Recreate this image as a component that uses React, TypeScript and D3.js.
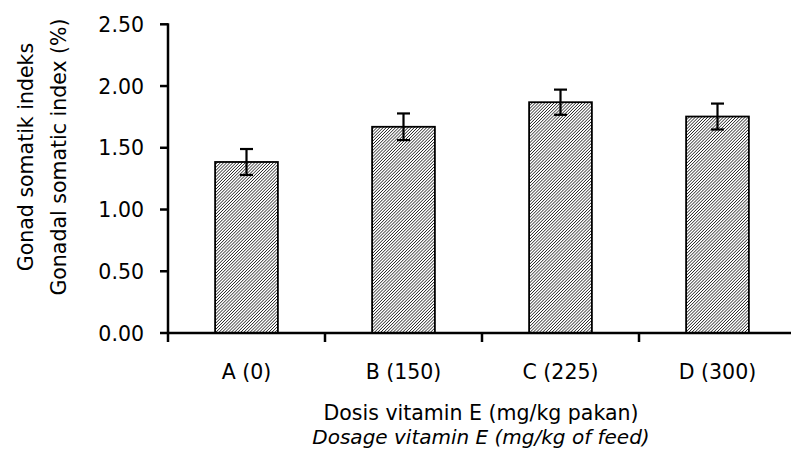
import React from "react";
import * as d3 from "d3";

const categories = ["A (0)", "B (150)", "C (225)", "D (300)"];
const values = [1.385, 1.67, 1.869, 1.753];
const errors = [0.105, 0.108, 0.102, 0.105];
const yTicks = [0, 0.5, 1.0, 1.5, 2.0, 2.5];

const W = 791;
const H = 456;
const FONT = "'DejaVu Sans', sans-serif";

export default function App() {
  const x0 = 168;
  const band = 157;
  const yScale = d3.scaleLinear().domain([0, 2.5]).range([333, 24.3]);
  const xScale = d3
    .scaleBand<string>()
    .domain(categories)
    .range([x0, x0 + band * categories.length])
    .paddingInner(0.6)
    .paddingOuter(0.3);
  const bw = xScale.bandwidth();
  const y0 = yScale(0);
  const tickXs = d3.range(categories.length + 1).map((i) => x0 + i * band);

  return (
    <svg
      width={W}
      height={H}
      style={{ position: "absolute", left: 0, top: 0, background: "#fff" }}
      fontFamily={FONT}
    >
      <defs>
        <pattern
          id="hatch"
          patternUnits="userSpaceOnUse"
          width={2.2}
          height={2.2}
          patternTransform="rotate(45)"
        >
          <rect width={2.2} height={2.2} fill="#fff" />
          <line x1={0} y1={0} x2={0} y2={2.2} stroke="#000" strokeWidth={1.25} />
        </pattern>
      </defs>
      {categories.map((c, i) => (
        <rect
          key={c}
          x={xScale(c)}
          y={yScale(values[i])}
          width={bw}
          height={y0 - yScale(values[i])}
          fill="url(#hatch)"
          stroke="#000"
          strokeWidth={1.8}
        />
      ))}
      {categories.map((c, i) => {
        const cx = (xScale(c) as number) + bw / 2;
        const t = yScale(values[i] + errors[i]);
        const b = yScale(values[i] - errors[i]);
        return (
          <g key={"e" + c} stroke="#000" strokeWidth={2.2}>
            <line x1={cx} x2={cx} y1={t} y2={b} />
            <line x1={cx - 6.5} x2={cx + 6.5} y1={t} y2={t} />
            <line x1={cx - 6.5} x2={cx + 6.5} y1={b} y2={b} />
          </g>
        );
      })}
      <line x1={x0} x2={x0} y1={yScale(2.5) - 1} y2={y0 + 1} stroke="#000" strokeWidth={2.5} />
      {yTicks.map((v) => (
        <g key={v}>
          <line x1={x0 - 8} x2={x0} y1={yScale(v)} y2={yScale(v)} stroke="#000" strokeWidth={2.5} />
          <text
            x={144}
            y={yScale(v) + 7.5}
            textAnchor="end"
            fontSize={20.5}
            fill="#000"
          >
            {v.toFixed(2)}
          </text>
        </g>
      ))}
      <line x1={x0} x2={W} y1={y0} y2={y0} stroke="#000" strokeWidth={2.5} />
      {tickXs.map((tx, i) => (
        <line key={i} x1={tx} x2={tx} y1={y0} y2={y0 + 9} stroke="#000" strokeWidth={2.5} />
      ))}
      {categories.map((c) => (
        <text
          key={"l" + c}
          x={(xScale(c) as number) + bw / 2}
          y={379}
          textAnchor="middle"
          fontSize={20.5}
          fill="#000"
        >
          {c}
        </text>
      ))}
      <text x={481} y={420} textAnchor="middle" fontSize={20.5} fill="#000">
        Dosis vitamin E (mg/kg pakan)
      </text>
      <text
        x={481}
        y={444}
        textAnchor="middle"
        fontSize={20}
        fontStyle="italic"
        fill="#000"
      >
        Dosage vitamin E (mg/kg of feed)
      </text>
      <g transform="translate(33,157) rotate(-90)">
        <text x={0} y={0} textAnchor="middle" fontSize={20.5} fill="#000">
          Gonad somatik indeks
        </text>
        <text x={0} y={33} textAnchor="middle" fontSize={20.5} fill="#000">
          Gonadal somatic index (%)
        </text>
      </g>
    </svg>
  );
}
